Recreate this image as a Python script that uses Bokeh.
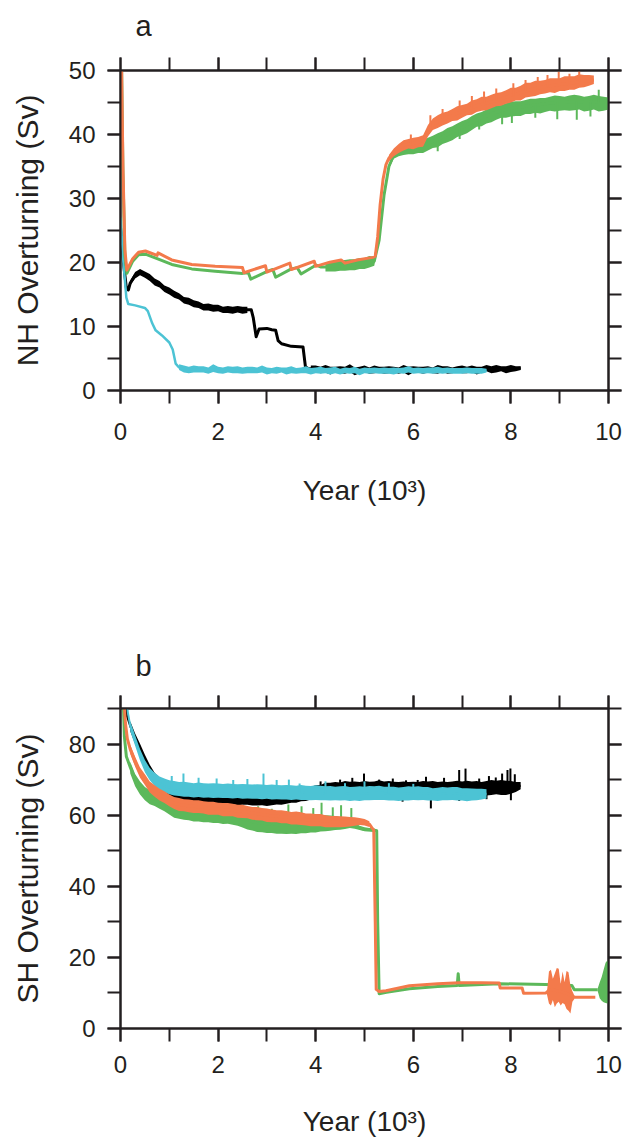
import numpy as np
from bokeh.plotting import figure
from bokeh.models import Range1d, LinearAxis, SingleIntervalTicker, CustomLabelingPolicy
from bokeh.layouts import column
from bokeh.embed import file_html
from bokeh.resources import INLINE

FONT = "Liberation Sans"
TXT = "#231f20"
C_BLACK = "#000000"
C_CYAN = "#4cc3d4"
C_GREEN = "#5cb85a"
C_ORANGE = "#f37a4b"
STEP = 0.1  # spacing (years x 10^3) of the envelope samples

# ---------------- panel a : NH overturning (Sv) ----------------
ORANGE_A_X0 = [0.02, 0.05, 0.09, 0.13, 0.25, 0.37, 0.51, 0.75, 0.77, 1.05, 1.46, 1.94, 2.50, 2.53, 2.97,
               3.00, 3.47, 3.50, 3.97, 4.00, 4.29, 4.52, 4.60, 4.85, 5.17, 5.22, 5.27, 5.32, 5.38, 5.44]
ORANGE_A_Y0 = [52, 35, 22, 18.8, 20.6, 21.6, 21.8, 21.1, 21.5, 20.4, 19.7, 19.4, 19.2, 18.4, 19.5,
               18.5, 19.9, 18.9, 20.2, 19.4, 20.05, 20.4, 19.9, 20.4, 20.8, 21.0, 24.0, 29.0, 33.0, 35.3]
ORANGE_A_N_START = 5.5
ORANGE_A_NC = [36.3, 37.2, 37.8, 38.3, 38.5, 38.6, 38.8, 39.0, 40.5, 41.6, 42.0, 42.3, 42.7, 43.0, 43.3,
               43.6, 43.9, 44.2, 44.5, 44.7, 44.9, 45.1, 45.3, 45.6, 45.8, 46.1, 46.3, 46.5, 46.8, 47.0,
               47.2, 47.3, 47.5, 47.6, 47.7, 47.8, 47.9, 48.0, 48.1, 48.3, 48.3, 48.4, 48.5]
ORANGE_A_UP = [0.5, 0.6, 0.7, 0.8, 0.8, 0.9, 0.8, 0.9, 1.0, 0.9, 1.0, 1.1, 0.9, 1.0, 1.1, 1.0, 0.9, 1.1,
               1.0, 1.2, 1.0, 1.1, 1.2, 1.0, 1.1, 1.2, 1.0, 1.1, 1.3, 1.1, 1.2, 1.1, 1.0, 1.2, 1.1, 1.0,
               1.2, 1.1, 1.0, 1.1, 1.0, 0.9, 0.7]
ORANGE_A_DN = [0.5, 0.6, 0.7, 0.8, 0.7, 0.9, 0.8, 0.9, 0.8, 0.9, 1.0, 0.9, 1.0, 0.9, 1.1, 1.0, 0.9, 1.1,
               1.0, 1.0, 1.1, 1.0, 0.9, 1.1, 1.0, 1.1, 1.0, 1.2, 1.0, 1.1, 1.2, 1.0, 1.1, 1.0, 1.2, 1.0,
               1.1, 1.0, 1.1, 1.0, 0.9, 0.8, 0.6]
ORANGE_A_SPIKE_X = [5.95, 6.35, 6.6, 6.95, 7.2, 7.45, 7.7, 8.05, 8.3, 8.55, 8.75, 8.98, 9.2, 9.4]
ORANGE_A_SPIKE_FROM = [38.6, 41.0, 42.3, 43.3, 44.2, 44.9, 45.3, 46.1, 46.8, 47.2, 47.5, 47.8, 48.0, 48.3]
ORANGE_A_SPIKE_TO = [40.0, 43.0, 44.0, 45.3, 46.0, 46.7, 47.2, 48.0, 48.5, 49.0, 49.3, 49.8, 49.5, 49.9]

GREEN_A_X0 = [0.02, 0.05, 0.09, 0.13, 0.25, 0.37, 0.51, 0.75, 1.05, 1.46, 1.94, 2.50, 2.62, 2.67, 3.03,
              3.12, 3.18, 3.50, 3.62, 3.70, 4.01, 4.10]
GREEN_A_Y0 = [52, 34, 21, 18.3, 20.2, 21.2, 21.3, 20.6, 19.7, 19.0, 18.65, 18.3, 18.4, 17.4, 18.7,
              18.9, 17.7, 19.0, 19.2, 18.2, 19.6, 19.3]
GREEN_A_N_START = 4.2
GREEN_A_NC = [19.3, 19.4, 19.5, 19.5, 19.6, 19.6, 19.7, 19.8, 19.9, 20.0, 20.2, 23.5, 30.5, 35.0, 36.8,
              37.4, 37.7, 37.9, 38.0, 38.1, 38.3, 38.6, 38.9, 39.2, 39.6, 40.0, 40.4, 40.7, 41.1, 41.5,
              41.9, 42.3, 42.6, 42.9, 43.2, 43.5, 43.7, 43.9, 44.0, 44.2, 44.3, 44.4, 44.5, 44.6, 44.7,
              44.8, 44.9, 45.0, 45.0, 45.0, 45.1, 45.1, 45.1, 45.0, 45.0, 45.1, 45.0, 45.0, 45.0]
GREEN_A_UP = [0.7, 0.8, 0.7, 0.9, 0.8, 0.9, 0.8, 0.9, 0.8, 1.0, 0.7, 0.3, 0.3, 0.3,
              0.6, 0.7, 0.7, 0.8, 0.8, 0.9, 0.8, 0.9, 0.9, 1.0, 0.9, 1.0, 0.9, 1.0, 1.0, 0.9,
              1.0, 1.0, 0.9, 1.0, 1.1, 1.0, 0.9, 1.0, 1.1, 1.0, 0.9, 1.0, 1.1, 1.0, 1.0, 0.9,
              1.0, 1.1, 1.0, 0.9, 1.0, 1.1, 1.0, 0.9, 1.0, 1.1, 1.0, 0.9, 0.8]
GREEN_A_DN = [0.7, 0.8, 0.9, 0.8, 0.9, 0.8, 0.9, 0.8, 0.9, 0.8, 0.7, 0.3, 0.3, 0.3,
              0.6, 0.8, 0.9, 1.0, 1.1, 1.0, 1.2, 1.1, 1.0, 1.2, 1.1, 1.2, 1.3, 1.1, 1.2, 1.3,
              1.2, 1.1, 1.3, 1.2, 1.3, 1.2, 1.1, 1.3, 1.2, 1.3, 1.4, 1.2, 1.3, 1.2, 1.4, 1.3,
              1.2, 1.4, 1.3, 1.2, 1.4, 1.3, 1.2, 1.4, 1.3, 1.2, 1.4, 1.3, 1.1]
GREEN_A_SPIKE_X = [6.5, 6.95, 7.35, 7.82, 8.02, 8.5, 8.95, 9.35, 9.63, 9.8]
GREEN_A_SPIKE_FROM = [39.2, 40.9, 42.4, 43.7, 44.0, 44.6, 45.0, 45.1, 45.0, 45.0]
GREEN_A_SPIKE_TO = [37.4, 39.3, 40.8, 41.6, 41.8, 42.6, 42.4, 42.3, 42.8, 47.0]

BLACK_A_X0 = [0.00, 0.06, 0.12, 0.16]
BLACK_A_Y0 = [25.5, 20.0, 16.0, 15.7]
BLACK_A_N1_START = 0.2
BLACK_A_N1C = [16.8, 18.0, 18.4, 18.2, 17.6, 17.0, 16.5, 16.0, 15.5, 15.1, 14.6, 14.2, 13.9, 13.6, 13.3,
               13.1, 13.0, 12.9, 12.8, 12.7, 12.6, 12.6, 12.6, 12.6, 12.6]
BLACK_A_N1UP = [0.4, 0.5, 0.6, 0.4, 0.6, 0.5, 0.6, 0.4, 0.6, 0.5, 0.6, 0.4, 0.6, 0.5, 0.6, 0.4, 0.6, 0.5,
                0.6, 0.4, 0.6, 0.5, 0.6, 0.5, 0.5]
BLACK_A_N1DN = [0.4, 0.5, 0.4, 0.6, 0.5, 0.6, 0.4, 0.6, 0.5, 0.6, 0.4, 0.6, 0.5, 0.6, 0.4, 0.6, 0.5, 0.6,
                0.4, 0.6, 0.5, 0.6, 0.4, 0.6, 0.5]
BLACK_A_X1 = [2.68, 2.72, 2.78, 2.84, 3.00, 3.10, 3.18, 3.23, 3.30, 3.50, 3.74, 3.79, 3.85]
BLACK_A_Y1 = [12.6, 11.4, 8.4, 9.6, 9.7, 9.5, 9.4, 7.8, 7.3, 6.9, 6.8, 3.7, 3.4]
BLACK_A_N2_START = 3.9
BLACK_A_N2C = [3.4, 3.3, 3.3, 3.3, 3.2, 3.3, 3.2, 3.2, 3.3, 3.2, 3.2, 3.3, 3.2, 3.2, 3.2, 3.3, 3.2, 3.2,
               3.2, 3.3, 3.2, 3.2, 3.3, 3.2, 3.2, 3.2, 3.3, 3.3, 3.2, 3.2, 3.3, 3.2, 3.3, 3.3, 3.2, 3.3,
               3.4, 3.3, 3.3, 3.4, 3.3, 3.4, 3.4, 3.5]
BLACK_A_N2UP = [0.5, 0.6, 0.4, 0.7, 0.5, 0.4, 0.6, 0.5, 0.8, 0.4, 0.5, 0.6, 0.4, 0.7, 0.5, 0.4, 0.6, 0.5,
                0.4, 0.7, 0.5, 0.6, 0.4, 0.5, 0.6, 0.4, 0.7, 0.5, 0.6, 0.4, 0.5, 0.7, 0.4, 0.6, 0.5, 0.4,
                0.6, 0.5, 0.7, 0.4, 0.5, 0.6, 0.4, 0.3]
BLACK_A_N2DN = [0.5, 0.4, 0.6, 0.5, 0.7, 0.4, 0.5, 0.6, 0.4, 0.8, 0.5, 0.4, 0.6, 0.5, 0.4, 0.7, 0.5, 0.4,
                0.6, 0.5, 0.8, 0.4, 0.5, 0.6, 0.4, 0.5, 0.7, 0.4, 0.6, 0.5, 0.4, 0.5, 0.6, 0.4, 0.7, 0.5,
                0.4, 0.6, 0.5, 0.4, 0.6, 0.5, 0.4, 0.3]

CYAN_A_X0 = [0.00, 0.06, 0.12, 0.16, 0.30, 0.50, 0.56, 0.65, 0.72, 0.85, 1.00, 1.07, 1.13]
CYAN_A_Y0 = [27, 20, 14.5, 13.5, 13.3, 12.9, 12.4, 10.5, 9.4, 8.6, 7.5, 6.4, 4.2]
CYAN_A_N_START = 1.2
CYAN_A_NC = [3.6, 3.3, 3.3, 3.2, 3.3, 3.2, 3.2, 3.3, 3.2, 3.2, 3.2, 3.2, 3.1, 3.2, 3.2, 3.1, 3.2, 3.2,
             3.1, 3.1, 3.1, 3.2, 3.1, 3.1, 3.1, 3.1, 3.2, 3.1, 3.1, 3.1, 3.1, 3.1, 3.1, 3.0, 3.1, 3.1,
             3.1, 3.0, 3.1, 3.1, 3.1, 3.1, 3.0, 3.1, 3.1, 3.1, 3.1, 3.2, 3.1, 3.1, 3.1, 3.1, 3.2, 3.1,
             3.1, 3.1, 3.1, 3.0, 3.1, 3.1, 3.1, 3.0, 3.1, 3.1]
CYAN_A_UP = [0.5, 0.6, 0.4, 0.7, 0.5, 0.6, 0.4, 0.8, 0.5, 0.4, 0.6, 0.5, 0.7, 0.4, 0.5, 0.6, 0.4, 0.7,
             0.5, 0.4, 0.6, 0.4, 0.5, 0.7, 0.4, 0.5, 0.6, 0.4, 0.5, 0.6, 0.4, 0.5, 0.6, 0.4, 0.5, 0.4,
             0.6, 0.4, 0.5, 0.4, 0.5, 0.4, 0.6, 0.4, 0.5, 0.4, 0.5, 0.6, 0.4, 0.5, 0.4, 0.5, 0.4, 0.6,
             0.4, 0.5, 0.4, 0.5, 0.4, 0.5, 0.4, 0.5, 0.4, 0.3]
CYAN_A_DN = [0.4, 0.5, 0.6, 0.4, 0.5, 0.4, 0.6, 0.4, 0.5, 0.6, 0.4, 0.5, 0.4, 0.6, 0.5, 0.4, 0.5, 0.4,
             0.6, 0.4, 0.5, 0.4, 0.6, 0.4, 0.5, 0.4, 0.5, 0.6, 0.4, 0.5, 0.4, 0.6, 0.4, 0.5, 0.4, 0.5,
             0.4, 0.6, 0.4, 0.5, 0.4, 0.5, 0.4, 0.5, 0.6, 0.4, 0.5, 0.4, 0.5, 0.4, 0.5, 0.4, 0.6, 0.4,
             0.5, 0.4, 0.5, 0.4, 0.5, 0.4, 0.5, 0.4, 0.5, 0.3]

# ---------------- panel b : SH overturning (Sv) ----------------
BLACK_B_X0 = [0.07, 0.13]
BLACK_B_Y0 = [95, 88]
BLACK_B_N_START = 0.2
BLACK_B_NC = [85, 81.5, 78.5, 75.5, 72.5, 70.3, 68.8, 67.6, 66.8, 66.2,
              65.8, 65.5, 65.3, 65.2, 65.1, 65.0, 64.9, 64.8, 64.8, 64.7,
              64.7, 64.6, 64.5, 64.5, 64.4, 64.4, 64.3, 64.3, 64.3, 64.4,
              64.5, 64.6, 64.8, 65.0, 65.2, 65.5, 65.8, 66.1, 66.4, 66.7,
              67.0, 67.2, 67.3, 67.4, 67.5, 67.5, 67.5, 67.5, 67.5, 67.5,
              67.5, 67.6, 67.6, 67.5, 67.4, 67.4, 67.3, 67.3, 67.3, 67.4,
              67.4, 67.5, 67.5, 67.4, 67.3, 67.3, 67.4, 67.4, 67.5, 67.5,
              67.4, 67.3, 67.3, 67.4, 67.5, 67.6, 67.6, 67.5, 67.6, 67.8, 68.3]
BLACK_B_UP = [1.4, 1.5, 1.6, 1.5, 1.7, 1.6, 1.7, 1.6,
              1.7, 1.6, 1.8, 1.7, 1.6, 1.8, 1.7, 1.6, 1.8, 1.7, 1.6, 1.8, 1.7, 1.6, 1.8, 1.7, 1.6, 1.8,
              1.7, 1.6, 1.8, 1.7, 1.6, 1.8, 1.9, 1.7, 1.8, 2.0, 1.8, 1.9,
              2.0, 1.8, 2.1, 1.9, 2.0, 1.8, 2.1, 1.9, 2.0, 1.8, 2.1, 1.9, 2.0, 2.2, 1.9, 2.1, 2.0, 1.9,
              2.2, 2.0, 2.1, 1.9, 2.2, 2.0, 2.1, 1.9, 2.2, 2.0, 2.1, 2.3, 2.0, 2.2, 2.1, 2.3, 2.0, 2.2,
              2.4, 2.1, 2.3, 2.2, 2.0, 1.5, 1.0]
BLACK_B_DN = [1.4, 1.5, 1.5, 1.6, 1.5, 1.6, 1.5, 1.6,
              1.6, 1.5, 1.7, 1.6, 1.5, 1.7, 1.6, 1.5, 1.7, 1.6, 1.5, 1.7, 1.6, 1.5, 1.7, 1.6, 1.5, 1.7,
              1.6, 1.5, 1.7, 1.6, 1.5, 1.7, 1.6, 1.5, 1.7, 1.6, 1.8, 1.7,
              1.8, 1.7, 1.9, 1.8, 1.7, 1.9, 1.8, 1.7, 1.9, 1.8, 1.7, 1.9, 1.8, 1.7, 1.9, 1.8, 1.7, 1.9,
              1.8, 1.7, 1.9, 1.8, 1.7, 1.9, 1.8, 1.7, 1.9, 1.8, 1.7, 1.9, 1.8, 1.7, 1.9, 1.8, 1.7, 1.9,
              1.8, 1.7, 1.9, 1.8, 1.6, 1.3, 1.0]
BLACK_B_SPIKE_X = [4.1, 4.5, 4.75, 4.99, 5.3, 5.58, 5.85, 6.09, 6.26, 6.63, 6.94, 7.07, 7.35, 7.55, 7.69,
                   7.82, 7.93, 7.99, 8.08, 5.78, 6.36, 6.94, 7.5, 8.0]
BLACK_B_SPIKE_FROM = [66.7, 67.4, 67.5, 67.5, 67.6, 67.4, 67.3, 67.4, 67.4, 67.3, 67.4, 67.5, 67.3, 67.4,
                      67.6, 67.6, 67.5, 67.6, 67.7, 67.3, 67.5, 67.4, 67.4, 67.6]
BLACK_B_SPIKE_TO = [69.5, 70.0, 70.5, 71.7, 70.0, 70.3, 69.8, 69.9, 70.8, 70.5, 72.7, 73.1, 70.3, 71.0,
                    70.6, 71.7, 72.7, 73.1, 71.5, 63.8, 61.9, 64.0, 64.5, 64.2]

CYAN_B_X0 = [0.10, 0.15]
CYAN_B_Y0 = [95, 89]
CYAN_B_N_START = 0.2
CYAN_B_NC = [85.0, 81.0, 77.0, 73.8, 71.5, 70.0, 69.0, 68.3, 67.8, 67.5,
             67.3, 67.2, 67.1, 67.0, 67.0, 66.9, 66.9, 66.8, 66.8, 66.8,
             66.7, 66.7, 66.7, 66.6, 66.6, 66.6, 66.5, 66.5, 66.5, 66.4,
             66.4, 66.4, 66.3, 66.3, 66.3, 66.3, 66.2, 66.2, 66.2, 66.2,
             66.1, 66.1, 66.1, 66.1, 66.1, 66.0, 66.0, 66.0, 66.1, 66.2,
             66.2, 66.3, 66.2, 66.1, 66.0, 66.0, 66.0, 66.1, 66.2, 66.2,
             66.1, 66.0, 65.9, 65.9, 66.0, 66.1, 66.1, 66.0, 65.9, 65.8,
             65.8, 65.8, 65.9, 66.0]
CYAN_B_UP = [1.4, 1.5, 1.6, 1.7, 1.8, 1.9, 1.9, 2.0, 2.0, 2.1, 2.0, 2.2, 2.1, 2.0, 2.2, 2.1, 2.0, 2.2,
             2.1, 2.0, 2.2, 2.1, 2.0, 2.2, 2.1, 2.0, 2.2, 2.1, 2.0, 2.2, 2.1, 2.0, 2.2, 2.1, 2.0, 2.2,
             2.1, 2.0, 2.2, 2.1, 2.0, 2.1, 1.9, 2.0, 2.1, 1.9, 2.0, 2.1, 1.9, 2.0, 1.9, 2.0, 1.8, 1.9,
             2.0, 1.8, 1.9, 2.0, 1.8, 1.9, 1.8, 1.9, 1.7, 1.8, 1.9, 1.7, 1.8, 1.9, 1.7, 1.8, 1.7, 1.6,
             1.5, 1.3]
CYAN_B_DN = [1.4, 1.5, 1.6, 1.7, 1.7, 1.8, 1.8, 1.9, 1.9, 2.0, 1.9, 2.0, 1.9, 2.0, 1.9, 2.0, 1.9, 2.0,
             1.9, 2.0, 1.9, 2.0, 1.9, 2.0, 1.9, 2.0, 1.9, 2.0, 1.9, 2.0, 1.9, 2.0, 1.9, 2.0, 1.9, 2.0,
             1.9, 2.0, 1.9, 2.0, 1.9, 2.0, 1.9, 2.0, 1.9, 2.0, 1.9, 2.0, 1.9, 2.0, 1.9, 2.0, 1.9, 2.0,
             1.9, 2.0, 1.9, 2.0, 1.9, 2.0, 1.8, 1.9, 1.8, 1.9, 1.8, 1.9, 1.8, 1.9, 1.8, 1.9, 1.7, 1.6,
             1.5, 1.3]
CYAN_B_SPIKE_X = [1.05, 1.29, 1.6, 1.97, 2.31, 2.6, 2.93, 3.2, 3.45, 3.67, 4.2, 4.6, 5.0, 5.5, 6.0]
CYAN_B_SPIKE_FROM = [67.8, 67.2, 67.0, 66.8, 66.7, 66.6, 66.5, 66.4, 66.3, 66.3, 66.1, 66.1, 66.1, 66.1, 66.2]
CYAN_B_SPIKE_TO = [71.0, 71.7, 70.5, 70.3, 69.9, 70.2, 71.7, 69.9, 70.0, 68.9, 69.5, 69.0, 69.5, 69.0, 68.8]

ORANGE_B_X0 = [0.06, 0.10, 0.14]
ORANGE_B_Y0 = [95, 86, 81.5]
ORANGE_B_N_START = 0.2
ORANGE_B_NC = [78.5, 75.0, 72.0, 70.0, 68.0, 66.8, 65.8, 65.0, 64.2, 63.4,
               63.0, 62.8, 62.6, 62.5, 62.4, 62.2, 62.0, 61.9, 61.8, 61.6,
               61.5, 61.4, 61.2, 61.0, 60.8, 60.6, 60.4, 60.2, 60.0, 59.8,
               59.7, 59.5, 59.4, 59.2, 59.1, 59.0, 58.8, 58.7, 58.6, 58.5,
               58.3, 58.2, 58.1, 58.1, 58.1, 58.1, 58.2, 58.2, 58.0, 57.5]
ORANGE_B_UP = [1.3, 1.4, 1.4, 1.5, 1.5, 1.6, 1.6, 1.7, 1.6, 1.7, 1.8, 1.7, 1.8, 1.7, 1.8, 1.7, 1.8, 1.9,
               1.7, 1.8, 1.9, 1.8, 1.7, 1.9, 1.8, 1.7, 1.9, 1.8, 1.9, 1.8, 1.7, 1.9, 1.8, 1.7, 1.9, 1.8,
               1.7, 1.8, 1.7, 1.8, 1.7, 1.6, 1.7, 1.6, 1.5, 1.4, 1.2, 1.0, 0.9, 0.8]
ORANGE_B_DN = [1.3, 1.4, 1.5, 1.5, 1.6, 1.6, 1.7, 1.6, 1.7, 1.7, 1.8, 1.7, 1.8, 1.9, 1.8, 1.7, 1.9, 1.8,
               1.7, 1.9, 1.8, 1.7, 1.9, 1.8, 1.7, 1.9, 1.8, 1.7, 1.9, 1.8, 1.7, 1.8, 1.7, 1.8, 1.7, 1.8,
               1.7, 1.8, 1.7, 1.6, 1.7, 1.6, 1.5, 1.5, 1.4, 1.3, 1.2, 1.0, 0.9, 0.8]
ORANGE_B_X1 = [5.15, 5.19, 5.22, 5.24, 5.30, 5.44, 5.92, 6.50, 6.94, 7.40, 7.76, 7.78, 8.23, 8.26, 8.72,
               8.80, 9.00, 9.20, 9.30, 9.73]
ORANGE_B_Y1 = [56.5, 55.8, 30.0, 11.0, 10.4, 10.6, 12.0, 12.6, 12.9, 12.9, 12.8, 11.4, 11.4, 9.9, 10.0,
               11.0, 10.5, 9.5, 8.8, 8.8]
ORANGE_B_BURST_X = [8.74, 8.78, 8.82, 8.86, 8.90, 8.94, 8.98, 9.02, 9.06, 9.10, 9.14, 9.18, 9.22, 9.26, 9.30]
ORANGE_B_BURST_HI = [10.5, 16.0, 16.5, 14.0, 15.5, 17.0, 16.8, 12.5, 16.0, 13.0, 16.2, 15.8, 12.0, 10.5, 9.3]
ORANGE_B_BURST_LO = [9.5, 7.0, 6.5, 8.0, 6.0, 7.0, 7.5, 6.5, 7.2, 6.8, 5.5, 5.0, 4.2, 7.5, 8.3]

GREEN_B_X0 = [0.05, 0.08, 0.12]
GREEN_B_Y0 = [95, 82, 76.5]
GREEN_B_N_START = 0.2
GREEN_B_NC = [73.5, 70.0, 67.8, 66.2, 65.2, 64.6, 64.0, 63.2, 62.4, 61.6,
              61.2, 61.0, 60.8, 60.6, 60.5, 60.4, 60.3, 60.2, 60.1, 60.0,
              60.0, 59.8, 59.4, 59.0, 58.6, 58.2, 57.9, 57.7, 57.6, 57.5,
              57.4, 57.3, 57.3, 57.3, 57.3, 57.4, 57.5, 57.6, 57.7, 57.8,
              57.8, 57.8, 57.8, 57.7, 57.6, 57.4, 57.0, 56.4, 56.0, 55.9, 55.8]
GREEN_B_UP = [1.5, 1.6, 1.7, 1.7, 1.8, 1.8, 1.9, 1.8, 1.9, 2.0, 1.9, 2.0, 1.9, 2.0, 2.1, 2.0, 1.9, 2.1,
              2.0, 2.1, 2.0, 2.1, 2.2, 2.1, 2.2, 2.1, 2.2, 2.3, 2.2, 2.3, 2.2, 2.3, 2.2, 2.4, 2.3, 2.2,
              2.4, 2.3, 2.2, 2.3, 2.2, 2.1, 2.0, 1.8, 1.5, 1.0, 0.8, 0.6, 0.6, 0.5, 0.5]
GREEN_B_DN = [1.8, 1.9, 2.0, 2.0, 2.1, 2.0, 2.2, 2.1, 2.2, 2.3, 2.2, 2.3, 2.2, 2.4, 2.3, 2.4, 2.3, 2.4,
              2.3, 2.5, 2.4, 2.5, 2.4, 2.5, 2.6, 2.5, 2.6, 2.5, 2.6, 2.5, 2.6, 2.5, 2.6, 2.5, 2.6, 2.5,
              2.6, 2.5, 2.6, 2.4, 2.3, 2.2, 2.0, 1.8, 1.5, 1.0, 0.8, 0.6, 0.5, 0.5, 0.5]
GREEN_B_SPIKE_X = [2.6, 2.82, 3.1, 3.44, 3.71, 3.95, 4.12, 4.35, 4.52, 4.73]
GREEN_B_SPIKE_FROM = [58.6, 58.0, 57.5, 57.3, 57.4, 57.6, 57.8, 57.8, 57.7, 57.4]
GREEN_B_SPIKE_TO = [61.5, 62.5, 61.8, 63.0, 62.5, 62.0, 63.5, 62.2, 62.8, 62.0]
GREEN_B_X1 = [5.25, 5.27, 5.30, 5.45, 5.92, 6.50, 6.90, 6.92, 6.94, 7.40, 7.76, 8.20, 8.71, 9.25, 9.30, 9.78]
GREEN_B_Y1 = [55.6, 30.0, 9.8, 10.2, 11.2, 11.8, 12.1, 15.4, 12.1, 12.4, 12.6, 12.5, 12.4, 12.1, 10.9, 10.9]
GREEN_B_BURST_X = [9.78, 9.82, 9.86, 9.90, 9.94, 9.98, 10.0]
GREEN_B_BURST_HI = [11.3, 13.0, 14.5, 16.5, 18.5, 19.2, 18.8]
GREEN_B_BURST_LO = [10.5, 8.5, 7.8, 7.4, 7.2, 7.0, 7.6]

X_TICK_INTERVAL = 2
X_LABEL = "Year (10³)"
Y_LABEL_A = "NH Overturning (Sv)"
Y_LABEL_B = "SH Overturning (Sv)"


def noisy(start, c, up, dn):
    c = np.asarray(c, float)
    x = start + STEP * np.arange(len(c))
    return x, c, c - np.asarray(dn, float), c + np.asarray(up, float)


def style_axis(ax, tick_out, labels):
    ax.axis_line_color = TXT
    ax.axis_line_width = 2
    ax.major_tick_line_color = TXT
    ax.minor_tick_line_color = TXT
    ax.major_tick_line_width = 2
    ax.minor_tick_line_width = 2
    ax.major_tick_in = 0
    ax.minor_tick_in = 0
    ax.major_tick_out = tick_out
    ax.minor_tick_out = tick_out
    if labels:
        ax.major_label_text_font = FONT
        ax.major_label_text_font_size = "24px"
        ax.major_label_text_color = TXT
    else:
        ax.major_label_text_font_size = "1px"
        ax.major_label_standoff = 0
        ax.major_label_policy = CustomLabelingPolicy(
            code="for (const i of indices) { indices.unset(i) }")


def make_fig(ymax, yint, ylabel, height, top, bottom, letter, letter_standoff, xl_standoff, xt_standoff):
    p = figure(width=625, height=height, x_range=Range1d(0, 10), y_range=Range1d(0, ymax),
               output_backend="svg", toolbar_location=None,
               x_axis_location=None, y_axis_location=None,
               min_border_left=120, min_border_right=15, min_border_top=top, min_border_bottom=bottom)
    p.xgrid.grid_line_color = None
    p.ygrid.grid_line_color = None
    p.outline_line_color = TXT
    p.outline_line_width = 2
    p.background_fill_color = "white"
    p.border_fill_color = "white"

    p.title.text = letter
    p.title.align = "left"
    p.title.vertical_align = "top"
    p.title.offset = 15
    p.title.standoff = letter_standoff
    p.title.text_font = FONT
    p.title.text_font_size = "29px"
    p.title.text_font_style = "normal"
    p.title.text_color = TXT

    bx = LinearAxis(ticker=SingleIntervalTicker(interval=X_TICK_INTERVAL, num_minor_ticks=2))
    style_axis(bx, 13, True)
    bx.major_label_standoff = xt_standoff
    bx.axis_label = X_LABEL
    bx.axis_label_text_font = FONT
    bx.axis_label_text_font_size = "28px"
    bx.axis_label_text_font_style = "normal"
    bx.axis_label_text_color = TXT
    bx.axis_label_standoff = xl_standoff
    p.add_layout(bx, "below")

    ly = LinearAxis(ticker=SingleIntervalTicker(interval=yint, num_minor_ticks=2))
    style_axis(ly, 13, True)
    ly.major_label_standoff = 12
    ly.axis_label = ylabel
    ly.axis_label_text_font = FONT
    ly.axis_label_text_font_size = "30px"
    ly.axis_label_text_font_style = "normal"
    ly.axis_label_text_color = TXT
    ly.axis_label_standoff = 22
    p.add_layout(ly, "left")

    tx = LinearAxis(ticker=SingleIntervalTicker(interval=X_TICK_INTERVAL, num_minor_ticks=2))
    style_axis(tx, 13, False)
    p.add_layout(tx, "above")

    ry = LinearAxis(ticker=SingleIntervalTicker(interval=yint, num_minor_ticks=2))
    style_axis(ry, 13, False)
    p.add_layout(ry, "right")
    return p


def draw(p, color, width, parts, bands, spikes=None):
    for bx, lo, hi in bands:
        p.varea(x=bx, y1=lo, y2=hi, fill_color=color, fill_alpha=1.0)
    xs = np.concatenate([np.asarray(a, float) for a, _ in parts])
    ys = np.concatenate([np.asarray(b, float) for _, b in parts])
    p.line(xs, ys, line_color=color, line_width=width, line_join="round")
    if spikes is not None:
        sx, s0, s1 = spikes
        p.segment(x0=sx, y0=s0, x1=sx, y1=s1, line_color=color, line_width=2)


# ---- panel a
pa = make_fig(50, 10, Y_LABEL_A, 560, 70, 170, "a", 19, 32, 19)

bx1, bc1, bl1, bh1 = noisy(BLACK_A_N1_START, BLACK_A_N1C, BLACK_A_N1UP, BLACK_A_N1DN)
bx2, bc2, bl2, bh2 = noisy(BLACK_A_N2_START, BLACK_A_N2C, BLACK_A_N2UP, BLACK_A_N2DN)
draw(pa, C_BLACK, 3, [(BLACK_A_X0, BLACK_A_Y0), (bx1, bc1), (BLACK_A_X1, BLACK_A_Y1), (bx2, bc2)],
     [(bx1, bl1, bh1), (bx2, bl2, bh2)])

cx, cc, cl, ch = noisy(CYAN_A_N_START, CYAN_A_NC, CYAN_A_UP, CYAN_A_DN)
draw(pa, C_CYAN, 2.5, [(CYAN_A_X0, CYAN_A_Y0), (cx, cc)], [(cx, cl, ch)])

gx, gc, gl, gh = noisy(GREEN_A_N_START, GREEN_A_NC, GREEN_A_UP, GREEN_A_DN)
draw(pa, C_GREEN, 3, [(GREEN_A_X0, GREEN_A_Y0), (gx, gc)], [(gx, gl, gh)],
     (GREEN_A_SPIKE_X, GREEN_A_SPIKE_FROM, GREEN_A_SPIKE_TO))

ox, oc, ol, oh = noisy(ORANGE_A_N_START, ORANGE_A_NC, ORANGE_A_UP, ORANGE_A_DN)
draw(pa, C_ORANGE, 3, [(ORANGE_A_X0, ORANGE_A_Y0), (ox, oc)], [(ox, ol, oh)],
     (ORANGE_A_SPIKE_X, ORANGE_A_SPIKE_FROM, ORANGE_A_SPIKE_TO))

# ---- panel b
pb = make_fig(90, 20, Y_LABEL_B, 585, 148, 117, "b", 16, 30, 14)

bx, bc, bl, bh = noisy(BLACK_B_N_START, BLACK_B_NC, BLACK_B_UP, BLACK_B_DN)
draw(pb, C_BLACK, 2, [(BLACK_B_X0, BLACK_B_Y0), (bx, bc)], [(bx, bl, bh)],
     (BLACK_B_SPIKE_X, BLACK_B_SPIKE_FROM, BLACK_B_SPIKE_TO))

cx, cc, cl, ch = noisy(CYAN_B_N_START, CYAN_B_NC, CYAN_B_UP, CYAN_B_DN)
draw(pb, C_CYAN, 2, [(CYAN_B_X0, CYAN_B_Y0), (cx, cc)], [(cx, cl, ch)],
     (CYAN_B_SPIKE_X, CYAN_B_SPIKE_FROM, CYAN_B_SPIKE_TO))

gx, gc, gl, gh = noisy(GREEN_B_N_START, GREEN_B_NC, GREEN_B_UP, GREEN_B_DN)
draw(pb, C_GREEN, 3, [(GREEN_B_X0, GREEN_B_Y0), (gx, gc), (GREEN_B_X1, GREEN_B_Y1)],
     [(gx, gl, gh), (GREEN_B_BURST_X, GREEN_B_BURST_LO, GREEN_B_BURST_HI)],
     (GREEN_B_SPIKE_X, GREEN_B_SPIKE_FROM, GREEN_B_SPIKE_TO))

ox, oc, ol, oh = noisy(ORANGE_B_N_START, ORANGE_B_NC, ORANGE_B_UP, ORANGE_B_DN)
draw(pb, C_ORANGE, 3, [(ORANGE_B_X0, ORANGE_B_Y0), (ox, oc), (ORANGE_B_X1, ORANGE_B_Y1)],
     [(ox, ol, oh), (ORANGE_B_BURST_X, ORANGE_B_BURST_LO, ORANGE_B_BURST_HI)])

layout = column(pa, pb)
open("out.html", "w").write(file_html(layout, INLINE))
